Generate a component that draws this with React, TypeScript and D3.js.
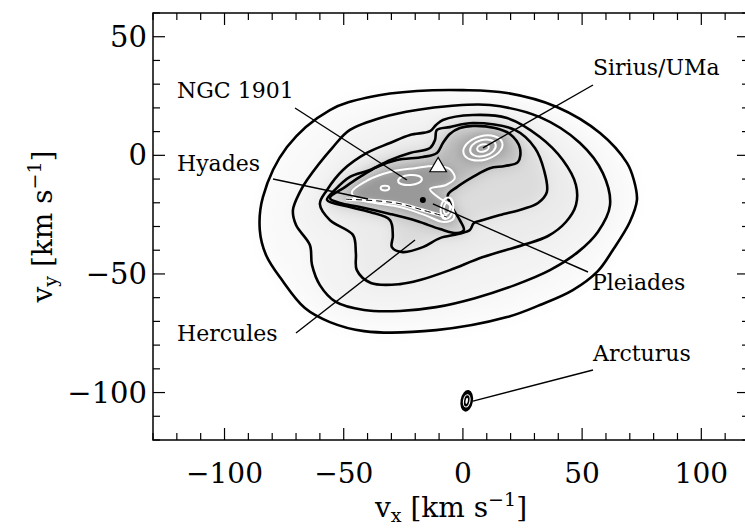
import React from "react";
import * as d3 from "d3";

// ---------- data (velocities in km/s) ----------
const xDomain: [number, number] = [-130, 120];
const yDomain: [number, number] = [-120, 60];
const xMajorTicks = [-100, -50, 0, 50, 100];
const yMajorTicks = [-100, -50, 0, 50];
const minorStep = 10;

type P = [number, number];

// contour levels, outermost first (vx, vy)
const contour1: P[] = [
  [0, 27.5], [-19.3, 27.1], [-39.0, 24.6], [-55.8, 19.1], [-73.8, 3.5], [-83.9, -17.6],
  [-85.2, -31.5], [-82.6, -42.0], [-75.9, -52.6], [-66.3, -64.4], [-55.8, -70.3],
  [-41.5, -74.1], [-11.3, -73.7], [18.5, -68.2], [32.3, -63.1], [46.1, -56.8],
  [56.6, -48.8], [62.9, -39.9], [70.0, -28.1], [73.0, -18.8], [71.7, -10.4],
  [68.8, -3.2], [57.5, 9.4], [39.4, 20.4], [18.5, 26.3],
];
const contour2: P[] = [
  [-5.5, 20.8], [11.3, 21.2], [32.3, 16.1], [49.1, 5.2], [58.7, -7.5], [61.7, -21.0],
  [56.6, -32.3], [48.2, -40.8], [36.5, -48.4], [21.8, -54.7], [5.0, -60.2],
  [-11.3, -64.0], [-26.4, -65.6], [-41.5, -65.2], [-53.3, -61.8], [-60.0, -54.7],
  [-63.3, -46.2], [-64.2, -37.8], [-70.0, -29.4], [-71.3, -23.1], [-68.4, -15.5],
  [-65.4, -10.4], [-54.5, 3.5], [-47.4, 10.7], [-33.6, 16.1], [-19.3, 19.1],
];
const contour3: P[] = [
  [-8.4, 14.9], [4.2, 17.0], [18.5, 15.7], [32.3, 7.7], [41.9, -2.0], [47.4, -12.5],
  [47.4, -21.0], [43.2, -28.1], [35.7, -34.0], [25.2, -37.8], [8.4, -42.9],
  [-5.5, -48.4], [-18.0, -52.6], [-26.4, -54.3], [-38.6, -53.8], [-44.5, -48.4],
  [-44.9, -41.2], [-46.1, -33.6], [-55.8, -27.3], [-60.0, -20.5], [-57.0, -14.6],
  [-50.3, -6.2], [-40.3, 1.0], [-30.6, 5.2], [-22.2, 8.6], [-13.8, 10.2], [-11.3, 12.8],
];
const contour4: P[] = [
  [-5.5, 11.9], [4.2, 13.6], [21.8, 10.7], [30.2, 3.1], [34.0, -6.2], [35.2, -15.5],
  [31.5, -20.1], [25.2, -22.6], [15.5, -25.2], [8.4, -27.3], [4.6, -28.5], [2.9, -31.5],
  [-2.1, -33.2], [-9.6, -34.9], [-16.8, -38.7], [-25.2, -40.8], [-29.8, -38.7],
  [-29.4, -34.0], [-30.6, -27.3], [-39.0, -23.9], [-47.4, -21.8], [-57.0, -18.8],
  [-53.7, -14.6], [-47.4, -9.1], [-39.0, -6.2], [-30.6, -2.0], [-22.2, 1.0],
  [-13.8, 3.1], [-11.7, 6.5], [-10.9, 10.7],
];
const contour5: P[] = [
  [-55.8, -18.0], [-49.5, -13.4], [-43.2, -9.1], [-36.1, -4.9], [-27.7, -2.0],
  [-16.8, -0.7], [-10.9, 1.0], [-8.4, 5.2], [-5.5, 9.0], [-1.3, 11.5], [4.2, 12.4],
  [13.4, 11.5], [19.7, 9.0], [23.9, 3.1], [23.1, -2.8], [17.6, -4.5], [11.3, -5.4],
  [4.2, -9.1], [-2.5, -13.4], [-6.3, -16.7], [-4.6, -21.8], [-1.3, -27.3], [0.4, -31.5],
  [-2.5, -32.8], [-9.6, -31.1], [-19.3, -27.7], [-30.6, -24.7], [-43.2, -21.8], [-51.6, -20.1],
];
// high-density (white) contours in the core
const whiteCore: P[] = [
  [-46.6, -15.5], [-39.8, -10.4], [-30.6, -7.0], [-20.1, -5.4], [-11.7, -4.5], [-5.5, -5.8],
  [-3.4, -9.6], [-7.1, -12.5], [-13.8, -14.2], [-10.5, -17.6], [-5.0, -21.4], [-3.8, -26.4],
  [-8.0, -28.1], [-15.9, -25.2], [-26.4, -21.8], [-36.9, -20.1], [-44.5, -18.4],
];
const hyadesStreak: P[] = [[-49.0, -18.5], [-36.0, -19.2], [-26.4, -20.4], [-16.8, -23.1], [-6.7, -26.0]];

// small peaks drawn as ellipses: centre, radii (km/s), tilt (deg)
const peakVx = [8.4, 8.4, 8.4, -22.2, -32.7, -6.7, -6.7];
const peakVy = [3.1, 3.1, 3.1, -10.4, -13.8, -22.3, -22.3];
const peakRx = [8.4, 5.5, 2.5, 5.0, 1.8, 2.6, 1.3];
const peakRy = [5.0, 3.4, 1.5, 2.1, 1.0, 4.6, 2.5];
const peakTilt = [-15, -15, -15, -5, 0, 10, 10];

// moving groups: names and pointer target velocities
const groupNames = ["NGC 1901", "Hyades", "Hercules", "Sirius/UMa", "Pleiades", "Arcturus"];
const groupVx = [-23.5, -39.8, -20.1, 8.4, -12.6, 4.2];
const groupVy = [-10.4, -18.4, -35.7, 3.1, -20.5, -103.6];

const arcturusVx = 1.6;
const arcturusVy = -103.5;
const triangleVx = -10.4;
const triangleVy = -4.9;
const dotVx = -16.8;
const dotVy = -18.8;

// ---------- layout ----------
const W = 745, H = 529;
const plot = { left: 153, top: 13, right: 749, bottom: 440 };
// label anchors (pixels): text left/baseline, line start
const labelX = [177, 177, 177, 593, 592, 593];
const labelY = [98, 171, 341, 75, 290, 361];
const lineStartX = [295, 273, 296, 593, 588, 593];
const lineStartY = [108, 179, 333, 85, 272, 370];

const FONT = "'DejaVu Serif', serif";

export default function App() {
  const x = d3.scaleLinear().domain(xDomain).range([plot.left, plot.right]);
  const y = d3.scaleLinear().domain(yDomain).range([plot.bottom, plot.top]);
  const line = d3
    .line<P>()
    .x((d) => x(d[0]))
    .y((d) => y(d[1]))
    .curve(d3.curveCatmullRomClosed.alpha(0.5));
  const openLine = d3
    .line<P>()
    .x((d) => x(d[0]))
    .y((d) => y(d[1]))
    .curve(d3.curveCatmullRom.alpha(0.5));

  const contours = [contour1, contour2, contour3, contour4, contour5];
  const fills = ["#f9f9f9", "#f3f3f3", "#ebebeb", "#dcdcdc", "#b6b6b6"];

  const kx = Math.abs(x(1) - x(0));
  const ky = Math.abs(y(1) - y(0));

  const ticksX = d3.range(xDomain[0], xDomain[1] + 0.1, minorStep);
  const ticksY = d3.range(yDomain[0], yDomain[1] + 0.1, minorStep);
  const isMajor = (v: number) => Math.abs(v % 50) < 1e-6;
  const fmt = (v: number) => (v < 0 ? "\u2212" + Math.abs(v) : String(v));

  const tri = d3.symbol().type(d3.symbolTriangle).size(120)();

  return (
    <svg
      width={W}
      height={H}
      style={{ position: "absolute", left: 0, top: 0, background: "#fff" }}
      fontFamily={FONT}
    >
      <defs>
        <clipPath id="plotclip">
          <rect x={plot.left} y={plot.top} width={plot.right - plot.left} height={plot.bottom - plot.top} />
        </clipPath>
        <filter id="soft" filterUnits="userSpaceOnUse" x="0" y="0" width={W} height={H}>
          <feGaussianBlur stdDeviation="8" />
        </filter>
        <filter id="soft2" filterUnits="userSpaceOnUse" x="0" y="0" width={W} height={H}>
          <feGaussianBlur stdDeviation="4" />
        </filter>
      </defs>

      <g clipPath="url(#plotclip)">
        {/* grey density shading */}
        <g filter="url(#soft)">
          {contours.map((c, i) => (
            <path key={i} d={line(c) || ""} fill={fills[i]} />
          ))}
        </g>
        <g filter="url(#soft2)">
          <path d={line(whiteCore) || ""} fill="#999" />
          <ellipse
            cx={x(peakVx[0])}
            cy={y(peakVy[0])}
            rx={peakRx[0] * kx * 1.2}
            ry={peakRy[0] * ky * 1.2}
            fill="#a2a2a2"
            transform={`rotate(${peakTilt[0]} ${x(peakVx[0])} ${y(peakVy[0])})`}
          />
        </g>

        {/* black contours */}
        {contours.map((c, i) => (
          <path key={i} d={line(c) || ""} fill="none" stroke="#000" strokeWidth={2.6} />
        ))}

        {/* white contours */}
        <path d={line(whiteCore) || ""} fill="none" stroke="#fff" strokeWidth={2} />
        {peakVx.map((vx, i) => (
          <ellipse
            key={i}
            cx={x(vx)}
            cy={y(peakVy[i])}
            rx={peakRx[i] * kx}
            ry={peakRy[i] * ky}
            fill="none"
            stroke="#fff"
            strokeWidth={2}
            transform={`rotate(${peakTilt[i]} ${x(vx)} ${y(peakVy[i])})`}
          />
        ))}
        <path d={openLine(hyadesStreak) || ""} fill="none" stroke="#fff" strokeWidth={3.2} />
        <path d={openLine(hyadesStreak) || ""} fill="none" stroke="#000" strokeWidth={1} strokeDasharray="6 4" />

        {/* pointer lines */}
        {groupNames.map((n, i) => (
          <line
            key={n}
            x1={lineStartX[i]}
            y1={lineStartY[i]}
            x2={x(groupVx[i])}
            y2={y(groupVy[i])}
            stroke="#000"
            strokeWidth={1.4}
          />
        ))}

        {/* markers */}
        <circle cx={x(dotVx)} cy={y(dotVy)} r={3} fill="#000" />
        <path
          d={tri || ""}
          transform={`translate(${x(triangleVx)},${y(triangleVy)})`}
          fill="#fff"
          stroke="#000"
          strokeWidth={1.2}
        />

        {/* Arcturus */}
        <g transform={`rotate(10 ${x(arcturusVx)} ${y(arcturusVy)})`}>
          <ellipse cx={x(arcturusVx)} cy={y(arcturusVy)} rx={2.6 * kx} ry={4.6 * ky} fill="#000" />
          <ellipse cx={x(arcturusVx)} cy={y(arcturusVy)} rx={1.35 * kx} ry={2.6 * ky} fill="none" stroke="#fff" strokeWidth={1.1} />
          <ellipse cx={x(arcturusVx)} cy={y(arcturusVy)} rx={0.5 * kx} ry={1.3 * ky} fill="#fff" />
        </g>

        {/* labels */}
        {groupNames.map((n, i) => (
          <text key={n} x={labelX[i]} y={labelY[i]} fontSize={22} fill="#000">
            {n}
          </text>
        ))}
      </g>

      {/* frame */}
      <rect
        x={plot.left}
        y={plot.top}
        width={plot.right - plot.left}
        height={plot.bottom - plot.top}
        fill="none"
        stroke="#000"
        strokeWidth={1.5}
      />
      {/* x ticks (bottom & top) */}
      {ticksX.map((v) => {
        const len = isMajor(v) ? 12 : 7;
        return (
          <g key={"x" + v}>
            <line x1={x(v)} x2={x(v)} y1={plot.bottom} y2={plot.bottom - len} stroke="#000" strokeWidth={1.2} />
            <line x1={x(v)} x2={x(v)} y1={plot.top} y2={plot.top + len} stroke="#000" strokeWidth={1.2} />
          </g>
        );
      })}
      {ticksY.map((v) => {
        const len = isMajor(v) ? 12 : 7;
        return (
          <g key={"y" + v}>
            <line x1={plot.left} x2={plot.left + len} y1={y(v)} y2={y(v)} stroke="#000" strokeWidth={1.2} />
            <line x1={plot.right} x2={plot.right - len} y1={y(v)} y2={y(v)} stroke="#000" strokeWidth={1.2} />
          </g>
        );
      })}
      {xMajorTicks.map((v) => (
        <text key={"xl" + v} x={x(v)} y={483} textAnchor="middle" fontSize={28}>
          {fmt(v)}
        </text>
      ))}
      {yMajorTicks.map((v) => (
        <text key={"yl" + v} x={plot.left - 6} y={y(v) + 10} textAnchor="end" fontSize={29}>
          {fmt(v)}
        </text>
      ))}

      {/* axis titles */}
      <text x={(plot.left + plot.right) / 2} y={517} textAnchor="middle" fontSize={28}>
        v<tspan fontSize={19} dy={5}>x</tspan>
        <tspan dy={-5}> [km s</tspan>
        <tspan fontSize={19} dy={-11}>{"\u22121"}</tspan>
        <tspan dy={11}>]</tspan>
      </text>
      <text
        transform={`translate(52,${(plot.top + plot.bottom) / 2}) rotate(-90)`}
        textAnchor="middle"
        fontSize={28}
      >
        v<tspan fontSize={19} dy={5}>y</tspan>
        <tspan dy={-5}> [km s</tspan>
        <tspan fontSize={19} dy={-11}>{"\u22121"}</tspan>
        <tspan dy={11}>]</tspan>
      </text>
    </svg>
  );
}
